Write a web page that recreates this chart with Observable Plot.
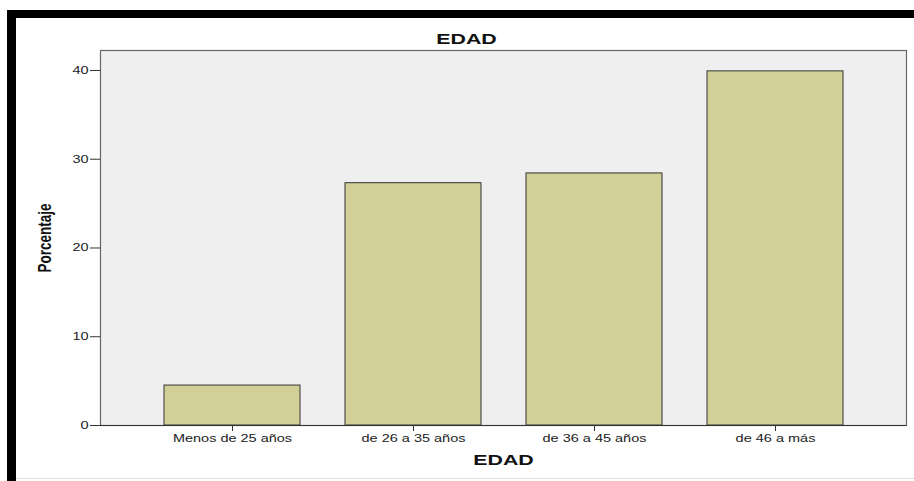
<!DOCTYPE html>
<html>
<head>
<meta charset="utf-8">
<script src="https://cdn.jsdelivr.net/npm/d3@7"></script>
<script src="https://cdn.jsdelivr.net/npm/@observablehq/plot@0.6"></script>
<style>
  html, body { margin: 0; padding: 0; background: #fff; }
  #wrap { position: relative; width: 914px; height: 481px; overflow: hidden; }
  .band { position: absolute; background: #000; }
  #chart { position: absolute; left: 0; top: 0; }
</style>
</head>
<body>
<div id="wrap">
  <div class="band" style="left:7px;top:10px;width:907px;height:8px;"></div>
  <div class="band" style="left:7px;top:10px;width:9px;height:471px;"></div>
  <div style="position:absolute;left:16px;top:478px;width:898px;height:1px;background:#ddd;"></div>
  <div id="chart"></div>
</div>
<script>
const categories = ["Menos de 25 años", "de 26 a 35 años", "de 36 a 45 años", "de 46 a más"];
const values = [4.5, 27.3, 28.4, 39.9];
const yTicks = [0, 10, 20, 30, 40];
const titleText = "EDAD";
const xLabel = "EDAD";
const yLabel = "Porcentaje";

const data = categories.map((c, i) => ({cat: c, pct: values[i]}));

const chart = Plot.plot({
  width: 914,
  height: 481,
  marginTop: 50,
  marginBottom: 56,
  marginLeft: 100,
  marginRight: 8,
  style: {fontFamily: "'Liberation Sans', Arial, sans-serif", background: "transparent", color: "#222"},
  x: {domain: categories, paddingInner: 0.25, paddingOuter: 0.125, inset: 40, label: null},
  y: {domain: [0, 42.25], label: null},
  marks: [
    Plot.frame({fill: "#efefef", stroke: "#666", strokeWidth: 1.2}),
    Plot.barY(data, {x: "cat", y: "pct", fill: "#d3cf98", stroke: "#333", strokeWidth: 1}),
    Plot.ruleY([0], {stroke: "#333", strokeWidth: 1.2}),
    Plot.ruleX([0], {frameAnchor: "left", stroke: "#333", strokeWidth: 1.2}),
    Plot.axisY({ticks: yTicks, tickSize: 10, tickPadding: 2, fontSize: 10.5, label: null, stroke: "#333"}),
    Plot.axisX({tickSize: 6, tickPadding: 3, fontSize: 10.5, label: null, stroke: "#333"}),
    Plot.text([titleText], {frameAnchor: "top", lineAnchor: "middle", textAnchor: "middle", dx: -37, dy: -11.5, fontSize: 15, fontWeight: "bold", fill: "#111"}),
    Plot.text([xLabel], {frameAnchor: "bottom", lineAnchor: "middle", textAnchor: "middle", dy: 35, fontSize: 15, fontWeight: "bold", fill: "#111"}),
    Plot.text([yLabel], {frameAnchor: "left", lineAnchor: "middle", textAnchor: "middle", dx: -55, rotate: -90, fontSize: 13.5, fontWeight: "bold", fill: "#111"})
  ]
});
document.getElementById("chart").appendChild(chart);

// The reference image is horizontally stretched: widen horizontal text glyphs.
chart.querySelectorAll("text").forEach(t => {
  if (t.textContent === yLabel) {
    const tr = t.getAttribute("transform") || "";
    t.setAttribute("transform", tr + " scale(1,1.35)");
    return;
  }
  const k = (t.textContent === titleText) ? 1.42 : 1.38;
  const L = t.getComputedTextLength();
  t.setAttribute("textLength", (L * k).toFixed(1));
  t.setAttribute("lengthAdjust", "spacingAndGlyphs");
});
</script>
</body>
</html>
